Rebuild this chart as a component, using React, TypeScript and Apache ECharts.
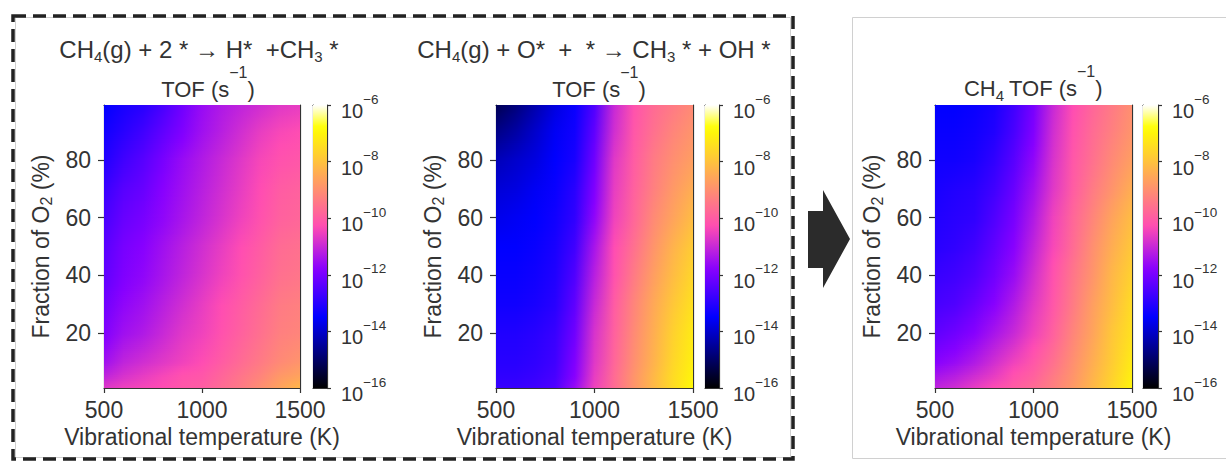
import React, { useEffect, useRef } from 'react';
import * as echarts from 'echarts';

// ---------- data (log10 of TOF in s^-1) ----------
const TEMPERATURES = [500, 600, 700, 800, 900, 1000, 1100, 1200, 1300, 1400, 1500];
const O2_FRACTIONS = [1, 5, 10, 20, 30, 40, 50, 60, 70, 80, 90, 99];
const X_TICKS_INTERVAL = 500;
const Y_TICKS = [20, 40, 60, 80];
const COLORBAR_EXPONENTS = [-16, -14, -12, -10, -8, -6];

// CH4(g) + 2* -> H* + CH3*   (rows follow O2_FRACTIONS, columns follow TEMPERATURES)
const LOG_TOF_DIRECT = [
  [-10.7, -10.5, -10.4, -10.3, -10.1, -10.0, -9.7, -9.4, -9.0, -8.6, -8.2],
  [-11.1, -10.8, -10.6, -10.4, -10.2, -10.1, -9.8, -9.5, -9.2, -8.8, -8.6],
  [-11.5, -11.1, -10.9, -10.7, -10.5, -10.3, -10.0, -9.7, -9.4, -9.1, -8.9],
  [-11.9, -11.5, -11.3, -11.0, -10.7, -10.5, -10.2, -9.9, -9.6, -9.3, -9.2],
  [-12.1, -11.7, -11.5, -11.2, -10.9, -10.6, -10.3, -10.0, -9.7, -9.4, -9.3],
  [-12.3, -11.9, -11.7, -11.4, -11.1, -10.8, -10.5, -10.2, -9.9, -9.6, -9.5],
  [-12.4, -12.0, -11.8, -11.5, -11.2, -10.9, -10.6, -10.3, -10.0, -9.7, -9.6],
  [-12.6, -12.2, -12.0, -11.7, -11.4, -11.1, -10.8, -10.5, -10.2, -9.9, -9.8],
  [-12.8, -12.4, -12.2, -11.8, -11.5, -11.2, -10.9, -10.6, -10.3, -10.0, -9.9],
  [-13.1, -12.7, -12.4, -12.0, -11.6, -11.3, -11.0, -10.7, -10.4, -10.2, -10.1],
  [-13.3, -13.0, -12.7, -12.3, -11.9, -11.5, -11.2, -10.9, -10.6, -10.4, -10.3],
  [-13.5, -13.2, -13.0, -12.6, -12.1, -11.6, -11.3, -11.1, -10.9, -10.7, -10.6],
];

// CH4(g) + O* + * -> CH3* + OH*
const LOG_TOF_OXYGEN = [
  [-12.8, -12.8, -12.7, -12.5, -11.6, -10.5, -9.7, -8.9, -8.2, -7.5, -6.9],
  [-12.9, -12.9, -12.8, -12.6, -11.8, -10.6, -9.7, -8.9, -8.2, -7.5, -7.0],
  [-13.0, -13.0, -12.9, -12.7, -11.9, -10.7, -9.8, -9.0, -8.3, -7.6, -7.1],
  [-13.1, -13.1, -13.0, -12.8, -12.1, -10.8, -9.9, -9.1, -8.4, -7.7, -7.2],
  [-13.3, -13.3, -13.2, -13.0, -12.3, -11.0, -10.0, -9.2, -8.5, -7.9, -7.4],
  [-13.4, -13.4, -13.3, -13.1, -12.5, -11.2, -10.2, -9.4, -8.7, -8.1, -7.6],
  [-13.5, -13.5, -13.4, -13.2, -12.7, -11.4, -10.3, -9.6, -8.9, -8.3, -7.8],
  [-13.7, -13.6, -13.5, -13.3, -12.9, -11.7, -10.5, -9.8, -9.1, -8.6, -8.1],
  [-13.9, -13.8, -13.6, -13.4, -13.0, -11.9, -10.6, -9.9, -9.3, -8.8, -8.4],
  [-14.2, -14.0, -13.8, -13.5, -13.2, -12.1, -10.7, -10.0, -9.4, -9.0, -8.7],
  [-14.7, -14.4, -14.0, -13.6, -13.3, -12.3, -10.9, -10.1, -9.6, -9.2, -8.9],
  [-15.2, -14.8, -14.3, -13.8, -13.4, -12.5, -11.0, -10.2, -9.7, -9.4, -9.1],
];

// total CH4 TOF
const LOG_TOF_TOTAL = [
  [-11.1, -10.9, -10.6, -10.3, -10.0, -9.7, -9.3, -8.8, -8.2, -7.6, -7.0],
  [-11.4, -11.2, -10.9, -10.6, -10.2, -9.9, -9.4, -8.9, -8.3, -7.7, -7.1],
  [-11.8, -11.6, -11.3, -10.9, -10.5, -10.1, -9.6, -9.0, -8.4, -7.8, -7.2],
  [-12.3, -12.1, -11.8, -11.4, -11.0, -10.5, -9.9, -9.2, -8.6, -7.9, -7.4],
  [-12.6, -12.5, -12.2, -11.8, -11.3, -10.7, -10.1, -9.4, -8.7, -8.1, -7.5],
  [-12.8, -12.7, -12.5, -12.1, -11.6, -10.9, -10.2, -9.5, -8.9, -8.2, -7.7],
  [-13.0, -12.9, -12.7, -12.3, -11.8, -11.1, -10.4, -9.7, -9.0, -8.4, -7.9],
  [-13.1, -13.0, -12.9, -12.5, -12.0, -11.3, -10.5, -9.8, -9.2, -8.6, -8.1],
  [-13.2, -13.1, -13.0, -12.7, -12.2, -11.5, -10.7, -10.0, -9.4, -8.9, -8.4],
  [-13.3, -13.3, -13.2, -12.9, -12.4, -11.7, -10.8, -10.1, -9.6, -9.1, -8.7],
  [-13.4, -13.4, -13.3, -13.1, -12.6, -11.9, -10.9, -10.2, -9.7, -9.3, -8.9],
  [-13.5, -13.5, -13.4, -13.2, -12.7, -12.0, -11.0, -10.3, -9.8, -9.4, -9.0],
];

// ---------- styles ----------
const FONT = "'Liberation Sans', Arial, Helvetica, sans-serif";
const TEXT = '#333';
const SPINE = '#333';
const X_MIN = 500, X_MAX = 1500, Y_MIN = 1, Y_MAX = 99;
const CB_MIN = -16, CB_MAX = -6;

function gnuplot2(t: number): string {
  const c = (v: number) => Math.max(0, Math.min(1, v));
  t = c(t);
  const r = c(t / 0.32 - 0.78125);
  const g = c(2 * t - 0.84);
  let b: number;
  if (t < 0.25) b = 4 * t;
  else if (t < 0.42) b = 1;
  else if (t < 0.92) b = -2 * t + 1.84;
  else b = t / 0.08 - 11.5;
  b = c(b);
  return `rgb(${Math.round(r * 255)},${Math.round(g * 255)},${Math.round(b * 255)})`;
}
const norm = (v: number) => (v - CB_MIN) / (CB_MAX - CB_MIN);

const PANELS = [
  { values: LOG_TOF_DIRECT, grid: { left: 104, top: 105, width: 196, height: 283 }, bar: { left: 313, top: 105, width: 14, height: 283 } },
  { values: LOG_TOF_OXYGEN, grid: { left: 496, top: 105, width: 197, height: 283 }, bar: { left: 705, top: 105, width: 14, height: 283 } },
  { values: LOG_TOF_TOTAL, grid: { left: 935, top: 105, width: 197, height: 283 }, bar: { left: 1143, top: 105, width: 15, height: 283 } },
];

const spine = { show: true, onZero: false, lineStyle: { color: SPINE, width: 1.2 } };

function buildOption() {
  const grid: any[] = [];
  const xAxis: any[] = [];
  const yAxis: any[] = [];
  const series: any[] = [];

  PANELS.forEach((p) => {
    // heatmap grid
    const gi = grid.length;
    grid.push({ ...p.grid });
    const xi = xAxis.length;
    xAxis.push({
      type: 'value', gridIndex: gi, min: X_MIN, max: X_MAX, interval: X_TICKS_INTERVAL, position: 'bottom',
      axisLine: spine,
      axisTick: { show: true, length: 5, lineStyle: { color: SPINE, width: 1.2 } },
      axisLabel: { fontSize: 23, color: TEXT, fontFamily: FONT, margin: 10, formatter: (v: number) => String(v) },
      splitLine: { show: false },
      name: 'Vibrational temperature (K)', nameLocation: 'middle', nameGap: 34,
      nameTextStyle: { fontSize: 23, color: TEXT, fontFamily: FONT },
    });
    xAxis.push({
      type: 'value', gridIndex: gi, min: X_MIN, max: X_MAX, position: 'top',
      axisLine: spine, axisTick: { show: false }, axisLabel: { show: false }, splitLine: { show: false },
    });
    const yi = yAxis.length;
    yAxis.push({
      type: 'value', gridIndex: gi, min: Y_MIN, max: Y_MAX, position: 'left',
      axisLine: spine,
      axisTick: { show: true, length: 6, customValues: Y_TICKS, lineStyle: { color: SPINE, width: 1.2 } },
      axisLabel: { customValues: Y_TICKS, fontSize: 23, color: TEXT, fontFamily: FONT, margin: 13 },
      splitLine: { show: false },
      name: 'Fraction of O{sub|2} (%)', nameLocation: 'middle', nameGap: 50,
      nameTextStyle: {
        fontSize: 23, color: TEXT, fontFamily: FONT, lineHeight: 26,
        rich: { sub: { fontSize: 16, lineHeight: 16, verticalAlign: 'bottom', color: TEXT, fontFamily: FONT } },
      },
    });
    yAxis.push({
      type: 'value', gridIndex: gi, min: Y_MIN, max: Y_MAX, position: 'right',
      axisLine: spine, axisTick: { show: false }, axisLabel: { show: false }, splitLine: { show: false },
    });
    const rows = p.values;
    // smooth (gouraud-like) shading between neighbouring O2 rows
    series.push({
      type: 'custom', xAxisIndex: xi, yAxisIndex: yi, clip: true, silent: true, z: 1,
      data: O2_FRACTIONS.slice(0, -1).map((y, j) => [X_MIN, y, j]),
      encode: { x: 0, y: 1 },
      renderItem: (params: any, api: any) => {
        const j = api.value(2);
        const pA = api.coord([X_MIN, O2_FRACTIONS[j]]);
        const pB = api.coord([X_MAX, O2_FRACTIONS[j + 1]]);
        const x0 = pA[0], x1 = pB[0];
        const yBot = pA[1], yTop = pB[1];
        const h = yBot - yTop;
        const n = Math.max(2, Math.ceil(h / 2));
        const children: any[] = [];
        for (let k = 0; k < n; k++) {
          const f = (k + 0.5) / n;
          const stops = TEMPERATURES.map((T, i) => ({
            offset: (T - X_MIN) / (X_MAX - X_MIN),
            color: gnuplot2(norm(rows[j][i] * (1 - f) + rows[j + 1][i] * f)),
          }));
          const sTop = yBot - ((k + 1) * h) / n;
          children.push({
            type: 'rect',
            shape: { x: x0, y: sTop - 0.4, width: x1 - x0, height: h / n + 0.8 },
            style: { fill: new echarts.graphic.LinearGradient(0, 0, 1, 0, stops), stroke: null },
          });
        }
        return { type: 'group', children };
      },
    });

    // colorbar grid
    const bi = grid.length;
    grid.push({ ...p.bar });
    const cxi = xAxis.length;
    xAxis.push({ type: 'value', gridIndex: bi, min: 0, max: 1, position: 'bottom', axisLine: spine, axisTick: { show: false }, axisLabel: { show: false }, splitLine: { show: false } });
    xAxis.push({ type: 'value', gridIndex: bi, min: 0, max: 1, position: 'top', axisLine: spine, axisTick: { show: false }, axisLabel: { show: false }, splitLine: { show: false } });
    const cyi = yAxis.length;
    yAxis.push({
      type: 'value', gridIndex: bi, min: CB_MIN, max: CB_MAX, interval: 2, position: 'right',
      axisLine: spine,
      axisTick: { show: true, length: 4, lineStyle: { color: SPINE, width: 1.2 } },
      axisLabel: {
        margin: 14,
        padding: [12, 0, 0, 0],
        formatter: (v: number) => (COLORBAR_EXPONENTS.includes(v) ? `{b|10}{s|\u2212${Math.abs(v)}}` : ''),
        rich: {
          b: { fontSize: 20, lineHeight: 38, color: TEXT, fontFamily: FONT },
          s: { fontSize: 13.5, lineHeight: 12, verticalAlign: 'top', color: TEXT, fontFamily: FONT },
        },
      },
      splitLine: { show: false },
    });
    yAxis.push({ type: 'value', gridIndex: bi, min: CB_MIN, max: CB_MAX, position: 'left', axisLine: spine, axisTick: { show: false }, axisLabel: { show: false }, splitLine: { show: false } });
    series.push({
      type: 'custom', xAxisIndex: cxi, yAxisIndex: cyi, clip: true, silent: true, z: 1,
      data: [[0, CB_MIN]],
      renderItem: (params: any, api: any) => {
        const p0 = api.coord([0, CB_MAX]);
        const p1 = api.coord([1, CB_MIN]);
        const stops = [];
        for (let k = 0; k <= 40; k++) stops.push({ offset: k / 40, color: gnuplot2(1 - k / 40) });
        return {
          type: 'rect',
          shape: { x: p0[0], y: p0[1], width: p1[0] - p0[0], height: p1[1] - p0[1] },
          style: { fill: new echarts.graphic.LinearGradient(0, 0, 0, 1, stops), stroke: null },
        };
      },
    });
  });

  const subRich = { fontSize: 15, lineHeight: 15, verticalAlign: 'bottom', fill: TEXT, fontFamily: FONT };
  const supRich = { fontSize: 16, lineHeight: 16, verticalAlign: 'top', fill: TEXT, fontFamily: FONT };
  const label = (x: number, y: number, text: string, fontSize: number, lineHeight: number, rich: any, align = 'center') => ({
    type: 'text', x, y, silent: true,
    style: { text, fontSize, fontFamily: FONT, fill: TEXT, align, verticalAlign: 'middle', lineHeight, rich },
  });

  const graphic = [
    { type: 'rect', silent: true, shape: { x: 15.5, y: 17.5, width: 775, height: 440 }, style: { fill: 'none', stroke: '#d0d0d0', lineWidth: 1 } },
    { type: 'rect', silent: true, shape: { x: 13, y: 16, width: 780, height: 443 }, style: { fill: 'none', stroke: '#222', lineWidth: 3.5, lineDash: [13, 7] } },
    { type: 'rect', silent: true, shape: { x: 852.5, y: 17.5, width: 380, height: 441 }, style: { fill: 'none', stroke: '#d0d0d0', lineWidth: 1 } },
    {
      type: 'polygon', silent: true,
      shape: { points: [[808, 211], [823, 211], [823, 190], [850, 239], [823, 288], [823, 268], [808, 268]] },
      style: { fill: '#2b2b2b' },
    },
    label(199, 49.5, 'CH{sub|4}(g) + 2 * \u2192 H*  +CH{sub|3} *', 24, 28, { sub: subRich }),
    label(594, 49.5, 'CH{sub|4}(g) + O*  +  * \u2192 CH{sub|3} * + OH *', 24, 28, { sub: subRich }),
    label(208, 89.5, 'TOF (s{sup|\u22121})', 22, 51, { sup: supRich }),
    label(599, 89.5, 'TOF (s{sup|\u22121})', 22, 51, { sup: supRich }),
    label(1004, 88.5, 'CH{sub|4}', 22, 28, { sub: subRich }, 'right'),
    label(1009, 88.5, 'TOF (s{sup|\u22121})', 22, 51, { sup: supRich }, 'left'),
  ];

  return { animation: false, backgroundColor: '#fff', grid, xAxis, yAxis, series, graphic };
}

export default function App() {
  const ref = useRef<HTMLDivElement>(null);
  useEffect(() => {
    const chart = echarts.init(ref.current!, null, { renderer: 'svg' });
    chart.setOption(buildOption() as any);
    return () => chart.dispose();
  }, []);
  return <div ref={ref} style={{ position: 'fixed', left: 0, top: 0, width: 1226, height: 462, background: '#fff' }} />;
}
